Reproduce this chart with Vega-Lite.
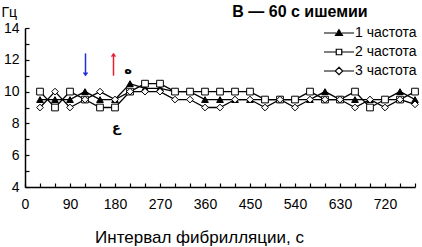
{
  "$schema": "https://vega.github.io/schema/vega-lite/v6.json",
  "width": 390,
  "height": 159,
  "autosize": "none",
  "padding": {"left": 25, "top": 28, "right": 7, "bottom": 60},
  "background": "white",
  "config": {
    "view": {"stroke": null},
    "font": "Liberation Sans",
    "axis": {"grid": false, "domainColor": "black", "domainWidth": 1.5, "tickColor": "black", "tickWidth": 1.2, "labelColor": "black", "titleColor": "black", "labelFont": "Liberation Sans", "titleFont": "Liberation Sans", "labelOverlap": false}
  },
  "title": {"text": "В — 60 с ишемии", "fontSize": 16, "fontWeight": "bold", "font": "Liberation Sans", "anchor": "middle", "dx": 80, "offset": -15, "color": "black"},
  "resolve": {"scale": {"shape": "independent", "fill": "independent"}, "legend": {"shape": "independent", "fill": "independent"}},
  "datasets": {
    "freq": [
      {"t":30,"series":"1 частота","v":9.5},{"t":30,"series":"2 частота","v":10.0},{"t":30,"series":"3 частота","v":9.0},
      {"t":60,"series":"1 частота","v":9.5},{"t":60,"series":"2 частота","v":9.0},{"t":60,"series":"3 частота","v":10.0},
      {"t":90,"series":"1 частота","v":9.5},{"t":90,"series":"2 частота","v":10.0},{"t":90,"series":"3 частота","v":9.0},
      {"t":120,"series":"1 частота","v":10.0},{"t":120,"series":"2 частота","v":9.5},{"t":120,"series":"3 частота","v":9.5},
      {"t":150,"series":"1 частота","v":9.5},{"t":150,"series":"2 частота","v":9.0},{"t":150,"series":"3 частота","v":10.0},
      {"t":180,"series":"1 частота","v":9.5},{"t":180,"series":"2 частота","v":9.0},{"t":180,"series":"3 частота","v":9.5},
      {"t":210,"series":"1 частота","v":10.5},{"t":210,"series":"2 частота","v":10.0},{"t":210,"series":"3 частота","v":10.0},
      {"t":240,"series":"1 частота","v":10.2},{"t":240,"series":"2 частота","v":10.5},{"t":240,"series":"3 частота","v":10.0},
      {"t":270,"series":"1 частота","v":10.2},{"t":270,"series":"2 частота","v":10.5},{"t":270,"series":"3 частота","v":10.0},
      {"t":300,"series":"1 частота","v":10.0},{"t":300,"series":"2 частота","v":10.0},{"t":300,"series":"3 частота","v":9.5},
      {"t":330,"series":"1 частота","v":10.0},{"t":330,"series":"2 частота","v":10.0},{"t":330,"series":"3 частота","v":9.5},
      {"t":360,"series":"1 частота","v":9.5},{"t":360,"series":"2 частота","v":10.0},{"t":360,"series":"3 частота","v":9.0},
      {"t":390,"series":"1 частота","v":9.5},{"t":390,"series":"2 частота","v":10.0},{"t":390,"series":"3 частота","v":9.0},
      {"t":420,"series":"1 частота","v":9.5},{"t":420,"series":"2 частота","v":10.0},{"t":420,"series":"3 частота","v":9.5},
      {"t":450,"series":"1 частота","v":9.5},{"t":450,"series":"2 частота","v":10.0},{"t":450,"series":"3 частота","v":9.5},
      {"t":480,"series":"1 частота","v":9.5},{"t":480,"series":"2 частота","v":9.5},{"t":480,"series":"3 частота","v":9.0},
      {"t":510,"series":"1 частота","v":9.5},{"t":510,"series":"2 частота","v":9.5},{"t":510,"series":"3 частота","v":9.5},
      {"t":540,"series":"1 частота","v":9.5},{"t":540,"series":"2 частота","v":9.5},{"t":540,"series":"3 частота","v":9.0},
      {"t":570,"series":"1 частота","v":9.5},{"t":570,"series":"2 частота","v":10.0},{"t":570,"series":"3 частота","v":9.5},
      {"t":600,"series":"1 частота","v":10.0},{"t":600,"series":"2 частота","v":9.5},{"t":600,"series":"3 частота","v":9.5},
      {"t":630,"series":"1 частота","v":9.5},{"t":630,"series":"2 частота","v":9.5},{"t":630,"series":"3 частота","v":9.5},
      {"t":660,"series":"1 частота","v":9.5},{"t":660,"series":"2 частота","v":10.0},{"t":660,"series":"3 частота","v":9.0},
      {"t":690,"series":"1 частота","v":9.5},{"t":690,"series":"2 частота","v":9.0},{"t":690,"series":"3 частота","v":9.5},
      {"t":720,"series":"1 частота","v":9.5},{"t":720,"series":"2 частота","v":9.5},{"t":720,"series":"3 частота","v":9.0},
      {"t":750,"series":"1 частота","v":10.0},{"t":750,"series":"2 частота","v":9.5},{"t":750,"series":"3 частота","v":9.5},
      {"t":780,"series":"1 частота","v":9.5},{"t":780,"series":"2 частота","v":10.0},{"t":780,"series":"3 частота","v":9.2}
    ]
  },
  "layer": [
    {
      "data": {"name": "freq"},
      "mark": {"type": "line", "color": "black", "strokeWidth": 1.3},
      "encoding": {
        "x": {"field": "t", "type": "quantitative", "scale": {"domain": [0, 780], "nice": false},
          "axis": {"values": [0,30,60,90,120,150,180,210,240,270,300,330,360,390,420,450,480,510,540,570,600,630,660,690,720,750,780],
            "tickCount": 100, "format": "d", "labelExpr": "datum.value % 90 == 0 ? datum.label : ''", "labelOverlap": false, "labelBound": false, "tickSize": -4, "labelPadding": 14, "labelFontSize": 14, "labelFlush": false,
            "title": "Интервал фибрилляции, с", "titleFontSize": 17, "titleFontWeight": "normal", "titleX": 174, "titleY": 55, "titleBaseline": "alphabetic", "titleAnchor": null, "titleAlign": "center"}},
        "y": {"field": "v", "type": "quantitative", "scale": {"domain": [4, 14], "nice": false, "zero": false},
          "axis": {"values": [4,4.5,5,5.5,6,6.5,7,7.5,8,8.5,9,9.5,10,10.5,11,11.5,12,12.5,13,13.5,14],
            "tickCount": 100, "format": "d", "labelExpr": "datum.value % 2 == 0 ? datum.label : ''", "labelOverlap": false, "labelBound": false, "tickSize": -4, "labelPadding": 10, "labelFontSize": 14, "labelFlush": false,
            "title": "Гц", "titleFontSize": 14, "titleFontWeight": "normal", "titleAngle": 0, "titleX": -24, "titleY": -12, "titleAlign": "left", "titleBaseline": "alphabetic", "titleAnchor": null}},
        "detail": {"field": "series", "type": "nominal"}
      }
    },
    {
      "data": {"name": "freq"},
      "mark": {"type": "point", "filled": false, "color": "black", "strokeWidth": 1, "opacity": 1},
      "encoding": {
        "x": {"field": "t", "type": "quantitative"},
        "y": {"field": "v", "type": "quantitative"},
        "shape": {"field": "series", "type": "nominal", "legend": null,
          "scale": {"domain": ["1 частота", "2 частота", "3 частота"], "range": ["triangle-up", "square", "diamond"]}},
        "fill": {"field": "series", "type": "nominal", "legend": null,
          "scale": {"domain": ["1 частота", "2 частота", "3 частота"], "range": ["black", "white", "white"]}},
        "size": {"value": 45}
      }
    },
    {
      "data": {"name": "freq"},
      "transform": [{"filter": "datum.t < 0"}],
      "mark": {"type": "point", "filled": false, "color": "black", "strokeWidth": 1.2, "opacity": 1},
      "encoding": {
        "x": {"field": "t", "type": "quantitative"},
        "y": {"field": "v", "type": "quantitative"},
        "shape": {"field": "series", "type": "nominal",
          "scale": {"domain": ["1 частота", "2 частота", "3 частота"], "range": ["M-3,0H-0.6M0.6,0H3M0,-0.65L0.7,0.5H-0.7Z", "M-3,0H-0.55M0.55,0H3M-0.55,-0.55H0.55V0.55H-0.55Z", "M-3,0H-0.75M0.75,0H3M0,-0.75L0.75,0L0,0.75L-0.75,0Z"]},
          "legend": {"title": null, "orient": "none", "legendX": 307, "legendY": -2, "symbolSize": 100, "labelOffset": 9, "labelFontSize": 14, "labelFont": "Liberation Sans", "labelColor": "black", "rowPadding": 5, "symbolStrokeWidth": 1.2}},
        "fill": {"field": "series", "type": "nominal",
          "scale": {"domain": ["1 частота", "2 частота", "3 частота"], "range": ["black", "white", "white"]},
          "legend": {"title": null, "orient": "none", "legendX": 307, "legendY": -2, "symbolSize": 100, "labelOffset": 9, "labelFontSize": 14, "labelFont": "Liberation Sans", "labelColor": "black", "rowPadding": 5, "symbolStrokeWidth": 1.2}},
        "size": {"value": 100}
      }
    },
    {
      "data": {"values": [{"t": 121, "y1": 12.4, "y2": 11.0}]},
      "mark": {"type": "rule", "color": "#1f2fd6", "strokeWidth": 1.5},
      "encoding": {"x": {"field": "t", "type": "quantitative"}, "y": {"field": "y1", "type": "quantitative"}, "y2": {"field": "y2"}}
    },
    {
      "data": {"values": [{"t": 121, "y": 11.05}]},
      "mark": {"type": "point", "shape": "M-1,-1.2L0,0L1,-1.2", "filled": false, "stroke": "#1f2fd6", "strokeWidth": 1.5, "size": 16, "opacity": 1},
      "encoding": {"x": {"field": "t", "type": "quantitative"}, "y": {"field": "y", "type": "quantitative"}}
    },
    {
      "data": {"values": [{"t": 177, "y1": 12.4, "y2": 11.0}]},
      "mark": {"type": "rule", "color": "#e5202e", "strokeWidth": 1.5},
      "encoding": {"x": {"field": "t", "type": "quantitative"}, "y": {"field": "y1", "type": "quantitative"}, "y2": {"field": "y2"}}
    },
    {
      "data": {"values": [{"t": 177, "y": 12.35}]},
      "mark": {"type": "point", "shape": "M-1,1.2L0,0L1,1.2", "filled": false, "stroke": "#e5202e", "strokeWidth": 1.5, "size": 16, "opacity": 1},
      "encoding": {"x": {"field": "t", "type": "quantitative"}, "y": {"field": "y", "type": "quantitative"}}
    },
    {
      "data": {"values": [{"t": 206, "y": 11.36, "label": "ه"}, {"t": 183, "y": 7.71, "label": "ع"}]},
      "mark": {"type": "text", "font": "DejaVu Sans", "fontWeight": "bold", "fontSize": 13, "color": "black", "baseline": "middle", "align": "center"},
      "encoding": {"x": {"field": "t", "type": "quantitative"}, "y": {"field": "y", "type": "quantitative"}, "text": {"field": "label"}}
    }
  ]
}
